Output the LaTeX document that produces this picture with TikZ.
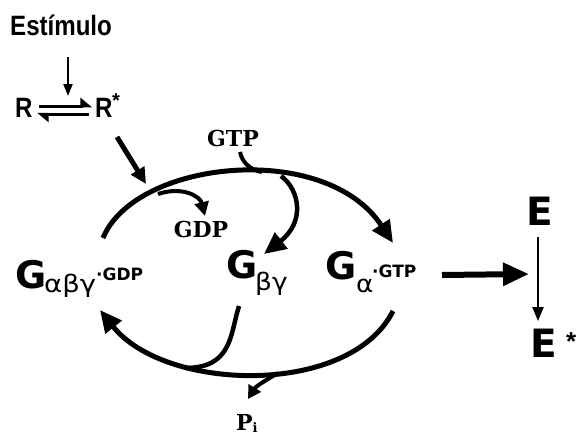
\documentclass[tikz,border=0pt]{standalone}
\usepackage{fontspec}
\usetikzlibrary{arrows.meta}
\newfontfamily\lsans{Liberation Sans}
\newfontfamily\dvsans{DejaVu Sans}
\newfontfamily\dvserif{DejaVu Serif}
\newcommand{\fsz}[1]{\fontsize{#1}{#1}\selectfont}
\begin{document}
\begin{tikzpicture}[x=1pt,y=-1pt,
  lbl/.style={inner sep=0pt, anchor=base west},
  bigG/.style={lbl, font=\dvsans\bfseries\fsz{38}},
  sub/.style={lbl, font=\dvsans\fsz{24}},
  sup/.style={lbl, font=\dvsans\bfseries\fsz{17}},
  serifb/.style={inner sep=0pt, font=\dvserif\bfseries\fsz{22}},
  rlbl/.style={lbl, font=\lsans\bfseries\fsz{28}},
  cyc/.style={line width=5pt},
  bighead/.style={-{Triangle[length=22pt,width=20pt]}},
  midhead/.style={-{Triangle[length=16pt,width=15pt]}},
  thin/.style={line width=2.2pt}
]
\useasboundingbox (0,0) rectangle (586,434);

% texts
\node[rlbl] (est) at (10,35) {\scalebox{0.86}[1]{Estímulo}};
\node[rlbl] (R) at (15,117) {\scalebox{0.86}[1]{R}};
\node[rlbl] (Rs) at (95,117) {\scalebox{0.86}[1]{R}};
\node[lbl, font=\lsans\bfseries\fsz{20}] (Rstar) at (112,107) {*};

\node[bigG] (G1) at (15,288) {G};
\node[sub] (G1s) at (44,292) {\scalebox{1.15}[1]{αβγ}};
\node[sup] (G1p) at (96,280) {·GDP};

\node[bigG] (G2) at (226,278) {G};
\node[sub] (G2s) at (255,290) {\scalebox{1.1}[1]{βγ}};

\node[bigG] (G3) at (325,279) {G};
\node[sub] (G3s) at (356,292) {\scalebox{1.1}[1]{α}};
\node[sup] (G3p) at (372,277) {·GTP};

\node[lbl, font=\dvsans\bfseries\fsz{39}] (E) at (526,225) {E};
\node[lbl, font=\dvsans\bfseries\fsz{39}] (Es) at (530,357) {E};
\node[lbl, font=\lsans\bfseries\fsz{26}] (Estar) at (566,350) {*};

\node[serifb] (GTP) at (233,138) {GTP};
\node[serifb] (GDP) at (201,229) {GDP};
\node[serifb, anchor=base west] (Pi) at (236,430) {P\raisebox{-2pt}{\fsz{13}i}};

% coordinates
\coordinate (stimA) at (68,57);
\coordinate (stimB) at (68,96);
\coordinate (eqTL) at (39,106);
\coordinate (eqTR) at (92,106);
\coordinate (eqBL) at (37,114);
\coordinate (eqBR) at (89,114);
\coordinate (actA) at (117,137);
\coordinate (actB) at (146,184);
\coordinate (upA) at (103,238);
\coordinate (upB) at (393,243);
\coordinate (gdpA) at (158,194);
\coordinate (gdpB) at (205,216);
\coordinate (gtpA) at (240,152);
\coordinate (gtpJ) at (262,172);
\coordinate (bgA) at (281,176);
\coordinate (bgB) at (264,254);
\coordinate (loA) at (393,311);
\coordinate (loB) at (100,310);
\coordinate (byA) at (239,306);
\coordinate (byJ) at (185,368);
\coordinate (piA) at (278,373);
\coordinate (piB) at (248,399);
\coordinate (effA) at (442,275);
\coordinate (effB) at (529,274);
\coordinate (eA) at (538,237);
\coordinate (eB) at (538,321);

% stimulus and receptor
\draw[thin, -{Triangle[length=12pt,width=9pt]}] (stimA) -- (stimB);
\draw[line width=3pt, -{Triangle[harpoon,length=10pt,width=16pt]}] (eqTL) -- (eqTR);
\draw[line width=3pt, -{Triangle[harpoon,length=10pt,width=16pt]}] (eqBR) -- (eqBL);
\draw[line width=5pt, midhead] (actA) -- (actB);

% upper arc
\draw[cyc, bighead] (upA) .. controls (135,160) and (325,140) .. (upB);
\draw[line width=4pt, -{Triangle[length=14pt,width=14pt]}] (gdpA) .. controls (182,186) and (200,196) .. (gdpB);
\draw[line width=4pt] (gtpA) .. controls (242,162) and (250,170) .. (gtpJ);
\draw[line width=4.5pt, bighead] (bgA) .. controls (300,190) and (305,222) .. (bgB);

% lower arc
\draw[cyc, bighead] (loA) .. controls (350,397) and (165,392) .. (loB);
\draw[line width=4.5pt] (byA) .. controls (230,335) and (232,368) .. (byJ);
\draw[line width=4pt, -{Triangle[length=13pt,width=14pt]}] (piA) .. controls (268,379) and (256,386) .. (piB);

% effector
\draw[line width=6pt, -{Triangle[length=26pt,width=22pt]}] (effA) -- (effB);
\draw[thin, -{Triangle[length=14pt,width=11pt]}] (eA) -- (eB);
\end{tikzpicture}
\end{document}
